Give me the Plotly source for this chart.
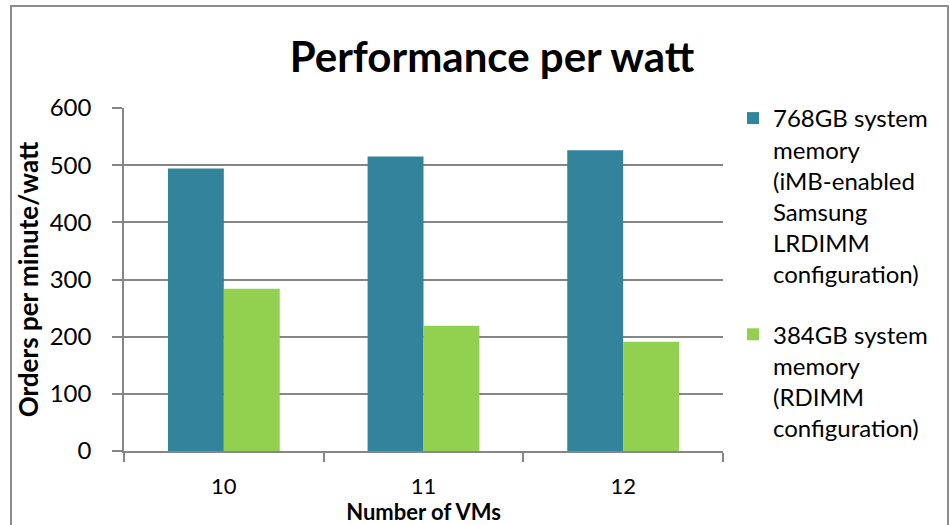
import plotly.graph_objects as go

categories = ["10", "11", "12"]
series_768 = [494, 515, 526]
series_384 = [284, 219, 191]
name_768 = "768GB system<br>memory<br>(iMB-enabled<br>Samsung<br>LRDIMM<br>configuration)"
name_384 = "384GB system<br>memory<br>(RDIMM<br>configuration)"
y_ticks = [0, 100, 200, 300, 400, 500, 600]

FONT = "Lato"
W, H = 949, 525
L, R, T, B = 124, 949 - 723, 108, 525 - 451
pw, ph = W - L - R, H - T - B

def px(x):
    return (x - L) / pw

def py(y):
    return (H - B - y) / ph

fig = go.Figure()
fig.add_trace(go.Bar(x=categories, y=series_768, name=name_768, legendgroup="g1",
                     marker=dict(color="#31849B", line=dict(width=0))))
fig.add_trace(go.Bar(x=categories, y=series_384, name=name_384, legendgroup="g2",
                     marker=dict(color="#92D050", line=dict(width=0))))

fig.update_layout(
    width=W, height=H,
    margin=dict(l=L, r=R, t=T, b=B, autoexpand=False),
    paper_bgcolor="white", plot_bgcolor="white",
    barmode="group", bargap=0.44, bargroupgap=0,
    font=dict(family=FONT, color="black"),
    title=dict(text="<b>Performance per watt</b>", xref="container", x=492 / W,
               xanchor="center", yref="container", y=1 - 57 / H, yanchor="middle",
               font=dict(family=FONT, size=42, color="black")),
    showlegend=True,
    legend=dict(x=px(733), xanchor="left", y=py(96), yanchor="top",
                valign="top", traceorder="grouped", maxheight=520,
                font=dict(family=FONT, size=24, color="black"),
                tracegroupgap=26, itemsizing="constant",
                bgcolor="rgba(0,0,0,0)"),
    xaxis=dict(
        type="category", tickson="boundaries", ticks="outside", ticklen=9,
        tickcolor="#868686", tickwidth=1.5,
        showline=True, linecolor="#868686", linewidth=1.5,
        showgrid=False, ticklabelstandoff=15,
        tickfont=dict(family=FONT, size=22, color="black"),
        title=dict(text="<b>Number of VMs</b>", standoff=1,
                   font=dict(family=FONT, size=22, color="black")),
    ),
    yaxis=dict(
        range=[0, 600], tickvals=y_ticks, ticks="outside", ticklen=10,
        tickcolor="#868686", tickwidth=1.5,
        showline=True, linecolor="#868686", linewidth=1.5,
        showgrid=True, gridcolor="#868686", gridwidth=1.5,
        zeroline=False, ticklabelstandoff=16,
        tickfont=dict(family=FONT, size=24, color="black"),
        title=dict(text="<b>Orders per minute/watt</b>", standoff=4,
                   font=dict(family=FONT, size=26, color="black")),
    ),
    shapes=[dict(type="rect", xref="paper", yref="paper",
                 x0=px(11), x1=px(948), y0=py(540), y1=py(6),
                 line=dict(color="#8C8C8C", width=2), layer="above")],
)

fig.write_html("out.html", config={"displayModeBar": False},
               post_script="document.body.style.margin='0';document.body.style.padding='0';")
